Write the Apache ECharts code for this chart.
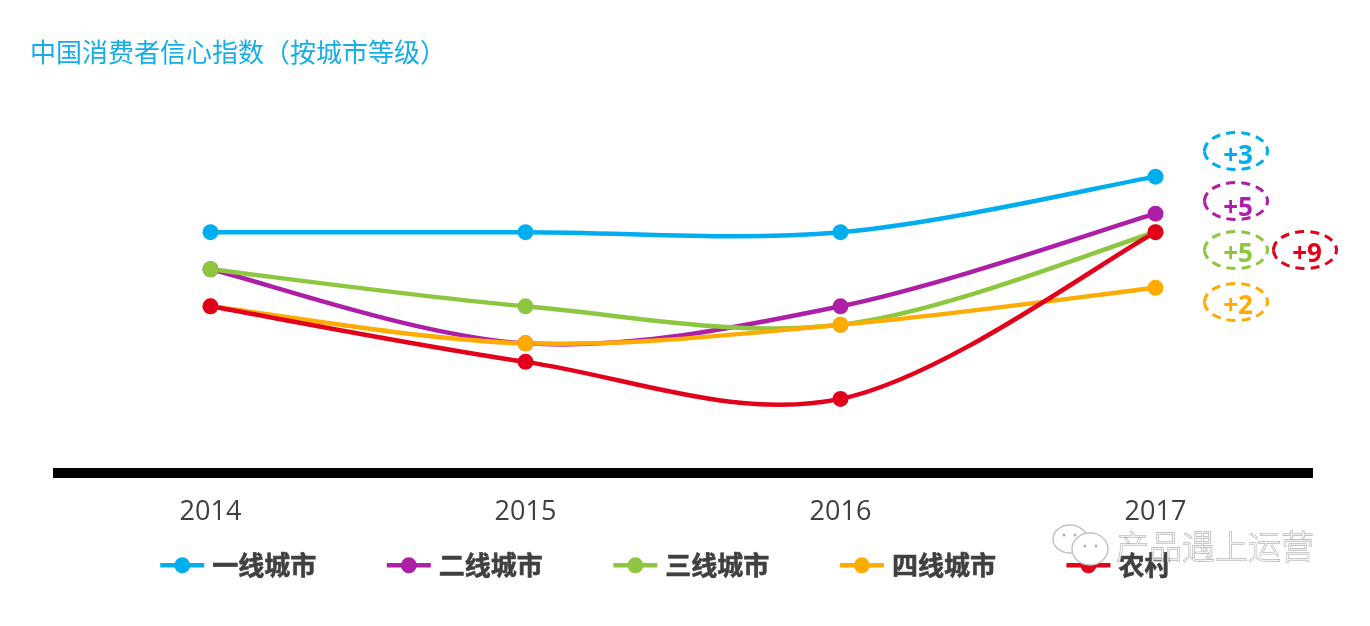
<!DOCTYPE html>
<html><head><meta charset="utf-8">
<style>html,body{margin:0;padding:0;background:#fff}#c{width:1370px;height:626px}</style>
<script src="https://cdn.jsdelivr.net/npm/echarts@6/dist/echarts.min.js"></script>
</head><body><div id="c"></div>
<script>
const years = ['2014','2015','2016','2017'];
const tier1 = [110,110,110,113];
const tier2 = [108,104,106,111];
const tier3 = [108,106,105,110];
const tier4 = [106,104,105,107];
const rural = [106,103,101,110];
const names = ['一线城市','二线城市','三线城市','四线城市','农村'];
const colors = ['#00AEEF','#AE1FA8','#8DC63F','#FFAB00','#E2001A'];
const deltas = ['+3','+5','+5','+2','+9'];
const title = '中国消费者信心指数（按城市等级）';
const watermark = '产品遇上运营';
const cjk = '"Noto Sans CJK SC","Noto Sans",sans-serif';
const seriesValues = [tier1,tier2,tier3,tier4,rural];
const badgeBoxes = [[1236,151,157],[1236,201,209],[1236,250,255],[1236,302,307],[1305,250,255]];

const graphic = [];
deltas.forEach((d,i)=>{
  const [x,y,ty] = badgeBoxes[i];
  graphic.push({type:'ellipse',shape:{cx:x,cy:y,rx:31.5,ry:18.5},
    style:{fill:'transparent',stroke:colors[i],lineWidth:3,lineDash:[9,6]},z:10});
  graphic.push({type:'text',x:x+2,y:ty,style:{text:d,fill:colors[i],font:'bold 26px "Open Sans",sans-serif',
    textAlign:'center',textVerticalAlign:'middle'},z:11});
});
// watermark
[[1070,539,17,14],[1090,549,18,16]].forEach(e=>{
  graphic.push({type:'ellipse',shape:{cx:e[0],cy:e[1],rx:e[2],ry:e[3]},
    style:{fill:'#fff',stroke:'#c4c4c4',lineWidth:1.5},z:12});
});
[[1064,535],[1075,535],[1085,546],[1096,546]].forEach(p=>{
  graphic.push({type:'circle',shape:{cx:p[0],cy:p[1],r:1.5},style:{fill:'#b0b0b0'},z:13});
});
graphic.push({type:'text',x:1116,y:546,style:{text:watermark,fill:'rgba(255,255,255,0.7)',stroke:'#9c9c9c',lineWidth:0.8,
  font:'300 33px '+cjk,textAlign:'left',textVerticalAlign:'middle'},z:14});

// Cardinal spline through the data, which overshoots the points as the source chart's curves do.
function curve(vals){
  return function(params, api){
    const i = params.dataIndex;
    if (i >= vals.length - 1) return null;
    const at = k => api.coord([Math.max(0,Math.min(vals.length-1,k)), vals[Math.max(0,Math.min(vals.length-1,k))]]);
    const p0 = at(i-1), p1 = at(i), p2 = at(i+1), p3 = at(i+2);
    return {type:'bezierCurve',
      shape:{x1:p1[0],y1:p1[1],x2:p2[0],y2:p2[1],
        cpx1:p1[0]+(p2[0]-p0[0])/6,cpy1:p1[1]+(p2[1]-p0[1])/6,
        cpx2:p2[0]-(p3[0]-p1[0])/6,cpy2:p2[1]-(p3[1]-p1[1])/6},
      style:{fill:null,stroke:api.visual('color'),lineWidth:4.5,lineCap:'round'},
      silent:true};
  };
}

const chart = echarts.init(document.getElementById('c'),null,{renderer:'canvas'});
chart.setOption({
  animation:false,
  backgroundColor:'#fff',
  title:{text:title,left:30,top:39,padding:0,textStyle:{color:'#14ADE6',fontSize:26,fontWeight:'normal',fontFamily:cjk}},
  grid:{left:53,width:1260,top:47,height:426,containLabel:false},
  legend:{left:153,top:547,itemWidth:44,itemHeight:20,itemGap:68,
    lineStyle:{opacity:1,width:4.5},
    textStyle:{fontSize:26,fontWeight:'bold',color:'#404040',fontFamily:cjk,padding:[0,0,0,3],textBorderColor:'#404040',textBorderWidth:0.6},
    data:names},
  xAxis:{type:'category',data:years,boundaryGap:true,
    axisLine:{show:true,lineStyle:{color:'#000',width:10,cap:'butt'}},axisTick:{show:false},
    axisLabel:{color:'#404040',fontSize:27,fontFamily:'"Open Sans",sans-serif',margin:26}},
  yAxis:{type:'value',min:97,max:120,show:false,splitLine:{show:false}},
  graphic,
  series:names.map((n,i)=>({name:n,type:'line',data:seriesValues[i],smooth:false,symbol:'circle',symbolSize:16,
      lineStyle:{color:colors[i],width:4,opacity:0},itemStyle:{color:colors[i]},z:20+i}))
    .concat(names.map((n,i)=>({name:n+' 曲线',type:'custom',coordinateSystem:'cartesian2d',clip:false,
      data:seriesValues[i].map((v,k)=>[k,v]),encode:{x:0,y:1},renderItem:curve(seriesValues[i]),
      itemStyle:{color:colors[i]},z:2+i})))
});
</script></body></html>
